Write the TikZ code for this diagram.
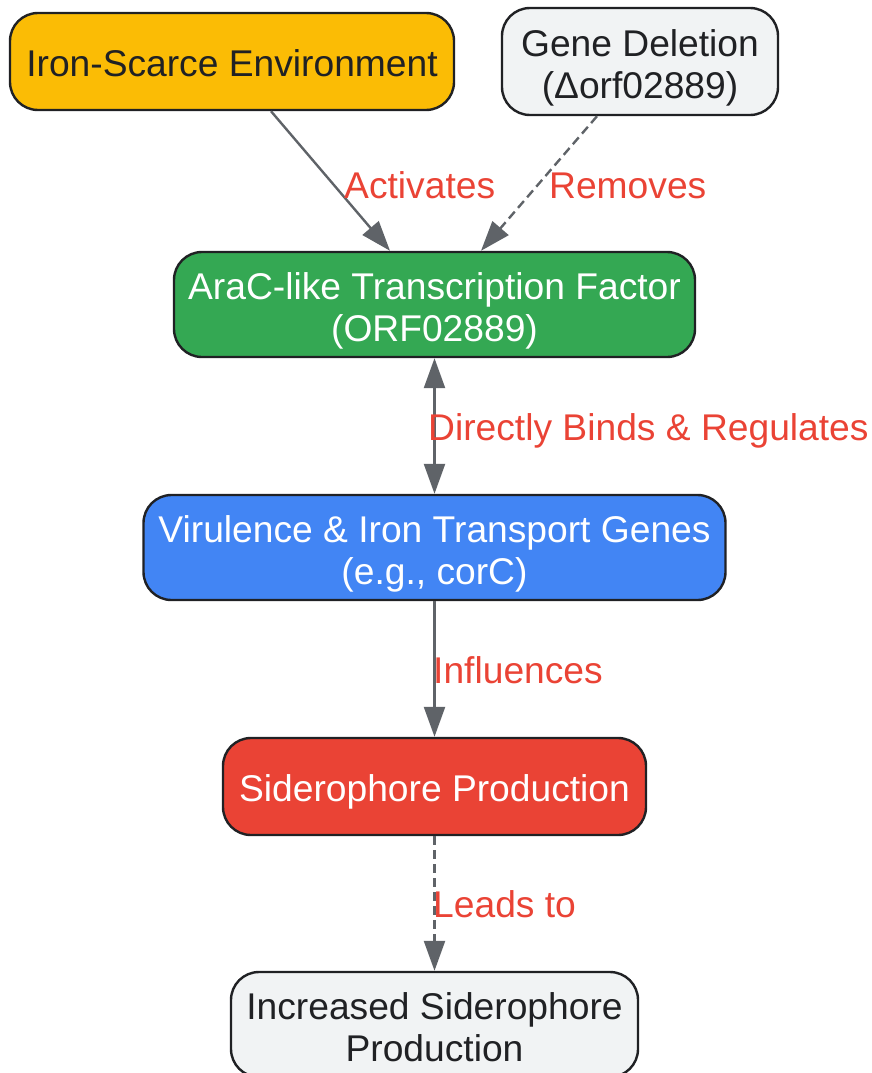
\documentclass[tikz,border=0pt]{standalone}
\usepackage{fontspec}
\setmainfont{Liberation Sans}
\usetikzlibrary{arrows.meta}
\definecolor{cyellow}{HTML}{FBBC05}
\definecolor{clight}{HTML}{F1F3F4}
\definecolor{cgreen}{HTML}{34A853}
\definecolor{cblue}{HTML}{4285F4}
\definecolor{cred}{HTML}{EA4335}
\definecolor{cedge}{HTML}{5F6368}
\definecolor{cborder}{HTML}{202124}
\definecolor{cdark}{HTML}{202124}
\begin{document}
\begin{tikzpicture}[x=1pt,y=-1pt,
  box/.style={draw=cborder, line width=2.4pt, rounded corners=28pt, align=center,
    font=\fontsize{37.2}{42}\selectfont, inner sep=0pt},
  oneline/.style={text height=37pt, text depth=8pt},
  twoline/.style={text height=81pt, text depth=8pt},
  darktext/.style={text=cdark},
  lighttext/.style={text=white},
  conn/.style={draw=cedge, line width=2.4pt, -{Triangle[length=30pt,width=21pt]}},
  dconn/.style={conn, dash pattern=on 9pt off 5pt},
  lbl/.style={text=cred, font=\fontsize{37.2}{42}\selectfont, anchor=base west, inner sep=0pt}]
\useasboundingbox (0,0) rectangle (871,1073);

\node[box, oneline, darktext, fill=cyellow, minimum width=444pt, minimum height=97pt] (iron) at (232,61.5) {Iron-Scarce Environment};
\node[box, twoline, darktext, fill=clight, minimum width=276pt, minimum height=107pt] (gene) at (640,61.5) {Gene Deletion\\(Δorf02889)};
\node[box, twoline, lighttext, fill=cgreen, minimum width=521pt, minimum height=105pt] (arac) at (434.5,304.5) {AraC-like Transcription Factor\\(ORF02889)};
\node[box, twoline, lighttext, fill=cblue, minimum width=582pt, minimum height=105pt] (vir) at (434.5,547.5) {Virulence \& Iron Transport Genes\\(e.g., corC)};
\node[box, oneline, lighttext, fill=cred, minimum width=423pt, minimum height=97pt] (sid) at (434.5,786.5) {Siderophore Production};
\node[box, twoline, darktext, fill=clight, minimum width=407pt, minimum height=105pt] (inc) at (434.5,1024.5) {Increased Siderophore\\Production};

\draw[conn] ([xshift=39pt]iron.south) -- ([xshift=-44.5pt]arac.north);
\draw[dconn] ([xshift=-43pt]gene.south) -- ([xshift=46.5pt]arac.north);
\draw[conn, {Triangle[length=30pt,width=21pt]}-{Triangle[length=30pt,width=21pt]}] (arac.south) -- (vir.north);
\draw[conn] (vir.south) -- (sid.north);
\draw[dconn] (sid.south) -- (inc.north);

\node[lbl] (l1) at (344,198) {Activates};
\node[lbl] (l2) at (549,198) {Removes};
\node[lbl] (l3) at (428,440) {Directly Binds \& Regulates};
\node[lbl] (l4) at (433,683) {Influences};
\node[lbl] (l5) at (433,917) {Leads to};
\end{tikzpicture}
\end{document}
